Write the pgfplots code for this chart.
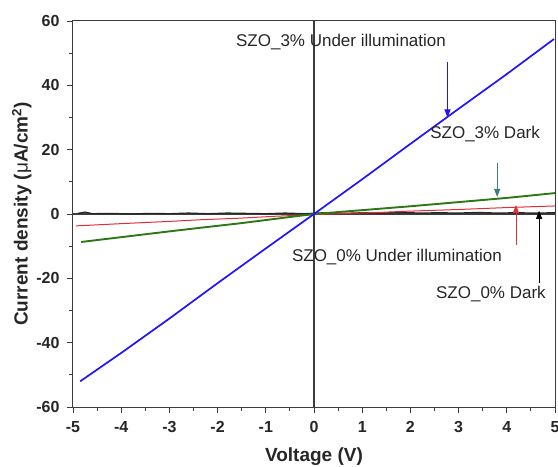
\documentclass[border=0pt]{standalone}
\usepackage{pgfplots}
\pgfplotsset{compat=1.18}
\usepackage{fontspec}
\setmainfont{Liberation Sans}
\usetikzlibrary{arrows.meta,calc}
\definecolor{cblue}{RGB}{30,20,255}
\definecolor{cgreen}{RGB}{45,120,20}
\definecolor{cred}{RGB}{225,45,55}
\definecolor{cteal}{RGB}{60,125,125}
\definecolor{axgray}{RGB}{60,60,60}
\begin{document}
\begin{tikzpicture}
\begin{axis}[
  name=ax,
  scale only axis, width=482pt, height=386pt,
  xmin=-5, xmax=5, ymin=-60, ymax=60,
  xtick={-5,-4,...,5}, ytick={-60,-40,...,60},
  minor x tick num=1, minor y tick num=1,
  tick pos=left, tick align=outside,
  major tick length=6pt, minor tick length=3.5pt,
  axis line style={axgray, line width=1pt},
  every tick/.style={axgray, line width=0.9pt},
  /pgf/number format/assume math mode=true,
  ticklabel style={font=\fontsize{16}{16}\selectfont\bfseries, text=black!85},
  xticklabel style={yshift=-5pt},
  yticklabel style={xshift=-4pt},
  xlabel={Voltage (V)},
  ylabel={Current density ({\mdseries μ}A/cm$^{\mathbf{2}}$)},
  label style={font=\fontsize{19}{19}\selectfont\bfseries, text=black!85},
  xlabel style={at={(axis description cs:0.5,-0.128)}, anchor=center},
  ylabel style={at={(axis description cs:-0.106,0.5)}, anchor=center},
  clip=false,
]
\draw[axgray, line width=1.1pt] (axis cs:0,-60) -- (axis cs:0,60);
\draw[axgray, line width=1.1pt] (axis cs:-5,0) -- (axis cs:5,0);

% SZO_0% Dark
\addplot[black!85, line width=1.2pt] coordinates {
(-4.9,0.2) (-4.75,0.6) (-4.6,0.1) (-4.2,0.2) (-3.8,0.0) (-3.4,0.2) (-3,0.1)
(-2.6,0.3) (-2.2,0.1) (-1.8,0.3) (-1.4,0.2) (-1,0.1) (-0.6,0.3) (-0.2,0.1)
(0.2,0.4) (0.6,0.2) (1,0.4) (1.4,0.3) (1.8,0.5) (2.2,0.3) (2.6,0.4) (3,0.3)
(3.4,0.5) (3.8,0.3) (4.2,0.4) (4.6,0.3) (5,0.4)};

% SZO_0% Under illumination
\addplot[cred, line width=1pt] coordinates {
(-4.94,-3.7) (-4,-3.0) (-3,-2.3) (-2.37,-1.8) (-1.54,-1.3) (-0.8,-0.7) (0,-0.2)
(0.7,0.2) (1.37,0.5) (2,0.9) (3,1.4) (4,2.0) (5,2.5)};

% SZO_3% Dark
\addplot[cgreen, line width=1.9pt] coordinates {
(-4.83,-8.7) (-4,-7.2) (-3,-5.4) (-2.37,-4.3) (-1.54,-2.9) (-0.8,-1.5) (0,0)
(1,1.2) (2,2.4) (3,3.7) (4,5.0) (5,6.5)};

% SZO_3% Under illumination
\addplot[cblue, line width=1.7pt] coordinates {
(-4.85,-52) (-4,-43.2) (-3,-32.5) (-2,-21.5) (-1,-10.7) (0,0)
(1,10.8) (2,21.8) (3,32.7) (4,43.5) (4.98,54.4)};

\begin{scope}[font=\fontsize{17}{17}\selectfont]
\node[text=black!85] at (axis cs:0.56,53.6) {SZO\_3\% Under illumination};
\node[text=black!85] at (axis cs:3.55,24.9) {SZO\_3\% Dark};
\node[text=black!85] at (axis cs:1.72,-13.4) {SZO\_0\% Under illumination};
\node[text=black!85] at (axis cs:3.67,-24.9) {SZO\_0\% Dark};
\end{scope}

\draw[cblue, line width=0.9pt, -{Triangle[length=8pt,width=6pt]}] (axis cs:2.77,47.3) -- (axis cs:2.77,30.0);
\draw[cteal, line width=0.9pt, -{Triangle[length=8pt,width=6pt]}] (axis cs:3.80,15.9) -- (axis cs:3.80,5.3);
\draw[cred, line width=0.9pt, -{Triangle[length=8pt,width=6pt]}] (axis cs:4.19,-9.6) -- (axis cs:4.19,2.8);
\draw[black, line width=0.9pt, -{Triangle[length=8pt,width=6pt]}] (axis cs:4.67,-21.5) -- (axis cs:4.67,1.0);
\end{axis}
\pgfresetboundingbox
\path ($(ax.south west)+(-73pt,-59pt)$) rectangle ($(ax.north east)+(3pt,21pt)$);
\end{tikzpicture}
\end{document}
